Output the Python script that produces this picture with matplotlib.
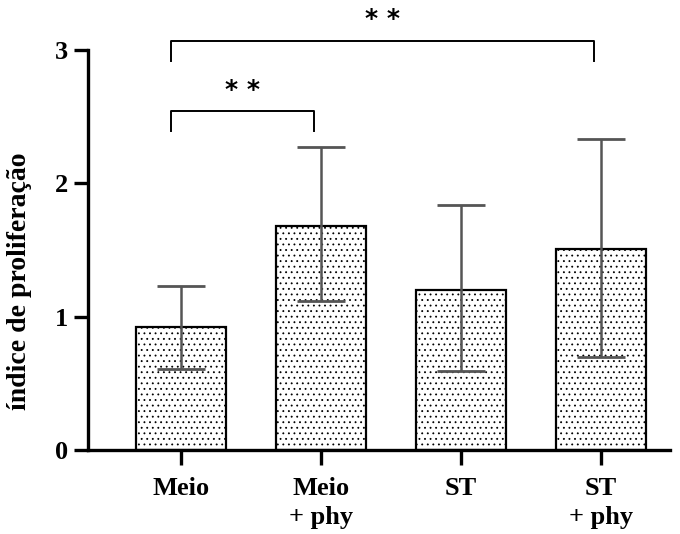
import matplotlib.pyplot as plt
import numpy as np

plt.rcParams['font.family'] = ['Liberation Serif', 'DejaVu Serif']
plt.rcParams['hatch.color'] = '#8a8a8a'
plt.rcParams['hatch.linewidth'] = 0.6

groups = ["Meio", "Meio\n+ phy", "ST", "ST\n+ phy"]
means = [0.92, 1.68, 1.20, 1.51]
err_low = [0.31, 0.56, 0.61, 0.81]
err_high = [0.31, 0.59, 0.64, 0.82]

# significance brackets: (left group, right group, bracket top, label)
sig_pairs = [(0, 1, 2.54, "* *"), (0, 3, 3.07, "* *")]

fig = plt.figure(figsize=(6.8, 5.34), dpi=100)
ax = fig.add_axes([0.129, 0.157, 0.856, 0.843])

x = np.arange(len(groups))
ax.bar(x, means, width=0.64, color="white", edgecolor="black", linewidth=1.6,
       hatch="...", zorder=2)
ax.errorbar(x, means, yerr=[err_low, err_high], fmt="none", ecolor="#555555",
            elinewidth=1.8, capsize=17, capthick=2.0, zorder=3)

for a, b, top, lab in sig_pairs:
    xa = a - 0.07
    xb = b - 0.05
    ax.plot([xa, xa, xb, xb], [top - 0.15, top, top, top - 0.15], color="black", lw=1.4,
            clip_on=False)
    ax.text((xa + xb) / 2, top + 0.07, lab, ha="center", va="bottom", fontsize=18,
            fontweight="bold", family="DejaVu Sans")

ax.set_xlim(-0.664, 3.49)
ax.set_ylim(0, 3.375)
ax.spines["left"].set_bounds(0, 3)
ax.spines["top"].set_visible(False)
ax.spines["right"].set_visible(False)
ax.spines["left"].set_linewidth(2.4)
ax.spines["bottom"].set_linewidth(2.4)
ax.set_yticks([0, 1, 2, 3])
ax.set_xticks(x)
ax.set_xticklabels(groups, fontsize=19, fontweight="bold", linespacing=1.35)
ax.tick_params(axis="y", length=10, width=2.4, labelsize=19, pad=4)
ax.tick_params(axis="x", length=11, width=2.4, pad=8)
for t in ax.get_yticklabels():
    t.set_fontweight("bold")
ax.set_ylabel("índice de proliferação", fontsize=20, fontweight="bold")
ax.yaxis.set_label_coords(-0.095, 0.375)

fig.savefig("out.png", dpi=100)
